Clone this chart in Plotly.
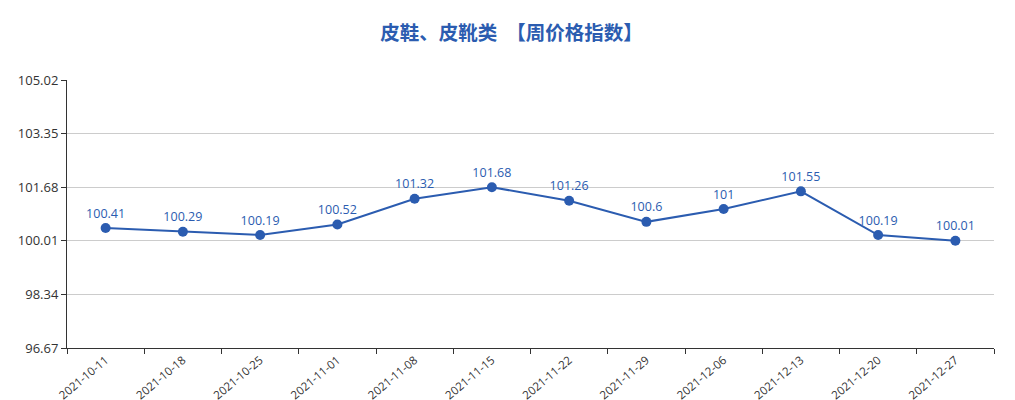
import plotly.graph_objects as go

# weekly price index, leather shoes / boots
weeks = ["2021-10-11", "2021-10-18", "2021-10-25", "2021-11-01", "2021-11-08", "2021-11-15",
         "2021-11-22", "2021-11-29", "2021-12-06", "2021-12-13", "2021-12-20", "2021-12-27"]
index_values = [100.41, 100.29, 100.19, 100.52, 101.32, 101.68,
                101.26, 100.6, 101, 101.55, 100.19, 100.01]
y_ticks = [96.67, 98.34, 100.01, 101.68, 103.35, 105.02]

blue = "#2b5cb0"

fig = go.Figure()
fig.add_trace(go.Scatter(
    x=weeks, y=index_values,
    mode="lines+markers+text",
    line=dict(color=blue, width=2),
    marker=dict(color=blue, size=10),
    text=[str(v) for v in index_values],
    textposition="top center",
    textfont=dict(color=blue, size=12.5, family="Open Sans"),
    hoverinfo="x+y",
    cliponaxis=False,
))

# page body has an 8px margin, so the figure is a little smaller than the window
fig.update_layout(
    width=1007, height=392,
    margin=dict(l=59, r=21, t=72, b=52),
    paper_bgcolor="white", plot_bgcolor="white",
    showlegend=False,
    title=dict(text="<b>皮鞋、皮靴类  【周价格指数】</b>", x=0.5, xanchor="center",
               y=0.935, yanchor="middle",
               font=dict(size=19.5, color=blue, family="Noto Sans CJK SC")),
    font=dict(family="Open Sans", color="#333333", size=12),
)
fig.update_xaxes(
    type="category", tickson="boundaries", ticks="outside", ticklen=5,
    tickcolor="#333333", showline=True, linecolor="#333333", linewidth=1,
    showgrid=False, tickangle=-40, tickfont=dict(size=11.5, color="#333333"),
    range=[-0.5, len(weeks) - 0.5], automargin=False,
)
fig.update_yaxes(
    range=[y_ticks[0], y_ticks[-1]], tickvals=y_ticks,
    ticktext=[f"{v:.2f}" for v in y_ticks],
    ticks="outside", ticklen=5, tickcolor="#333333",
    showline=True, linecolor="#333333", linewidth=1,
    showgrid=True, gridcolor="#cccccc", zeroline=False,
    tickfont=dict(size=13, color="#333333"), automargin=False,
)

fig.write_html("out.html")
